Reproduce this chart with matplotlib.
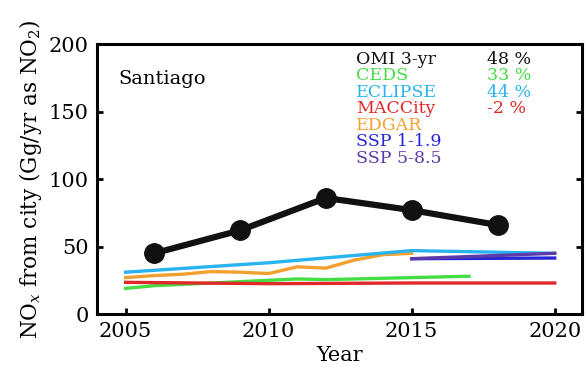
import matplotlib

matplotlib.use("Agg")
import matplotlib.pyplot as plt

plt.rcParams["font.family"] = ["DejaVu Serif"]
plt.rcParams["mathtext.fontset"] = "dejavuserif"

# Data
omi_years = [2006, 2009, 2012, 2015, 2018]
omi_vals = [45, 62, 86, 77, 66]

ceds_years = list(range(2005, 2018))
ceds_vals = [19, 21, 22, 23, 24, 25, 26, 25.5, 26, 26.5, 27, 27.5, 28]

eclipse_years = [2005, 2010, 2015, 2020]
eclipse_vals = [31, 38, 47, 45]

maccity_years = [2005, 2010, 2015, 2020]
maccity_vals = [23.5, 22.5, 23, 23]

edgar_years = list(range(2005, 2016))
edgar_vals = [27, 28.5, 29.5, 31.5, 31, 30, 35, 34, 40, 44, 45]

ssp1_years = [2015, 2020]
ssp1_vals = [41, 41.5]
ssp5_years = [2015, 2020]
ssp5_vals = [41, 45]

legend_names = ["OMI 3-yr", "CEDS", "ECLIPSE", "MACCity", "EDGAR", "SSP 1-1.9", "SSP 5-8.5"]
legend_pct = ["48 %", "33 %", "44 %", "-2 %"]

COLORS = {
    "omi": "#111111",
    "ceds": "#44dd44",
    "eclipse": "#29b3f0",
    "maccity": "#e02828",
    "edgar": "#f2a030",
    "ssp1": "#2626d8",
    "ssp5": "#5e3aa8",
}
legend_colors = [COLORS[k] for k in ["omi", "ceds", "eclipse", "maccity", "edgar", "ssp1", "ssp5"]]

fig = plt.figure(figsize=(5.86, 3.77), dpi=100)
ax = fig.add_axes([0.1655, 0.167, 0.8275, 0.716])

lw = 2.4
ax.plot(ceds_years, ceds_vals, color=COLORS["ceds"], lw=lw)
ax.plot(edgar_years, edgar_vals, color=COLORS["edgar"], lw=lw)
ax.plot(eclipse_years, eclipse_vals, color=COLORS["eclipse"], lw=lw)
ax.plot(maccity_years, maccity_vals, color=COLORS["maccity"], lw=lw)
ax.plot(ssp1_years, ssp1_vals, color=COLORS["ssp1"], lw=lw)
ax.plot(ssp5_years, ssp5_vals, color=COLORS["ssp5"], lw=lw)
ax.plot(omi_years, omi_vals, color=COLORS["omi"], lw=4.5, marker="o", markersize=14)

ax.set_xlim(2004.0, 2020.95)
ax.set_ylim(0, 200)
ax.set_xticks([2005, 2010, 2015, 2020])
ax.set_yticks([0, 50, 100, 150, 200])
ax.tick_params(direction="in", length=4, width=2, labelsize=15, right=True, top=False, pad=6)
for s in ax.spines.values():
    s.set_linewidth(2.2)

ax.set_xlabel("Year", fontsize=15, labelpad=3)
ax.set_ylabel(r"NO$_x$ from city (Gg/yr as NO$_2$)", fontsize=15.5, labelpad=3)

ax.text(0.045, 0.87, "Santiago", transform=ax.transAxes, fontsize=14, va="center")

# Coloured text legend
y0 = 0.944
dy = 0.061
for i, (name, c) in enumerate(zip(legend_names, legend_colors)):
    ax.text(0.535, y0 - i * dy, name, color=c, transform=ax.transAxes,
            fontsize=12.5, va="center")
for i, pct in enumerate(legend_pct):
    ax.text(0.805, y0 - i * dy, pct, color=legend_colors[i], transform=ax.transAxes,
            fontsize=12.5, va="center")

fig.savefig("out.png", dpi=100)
